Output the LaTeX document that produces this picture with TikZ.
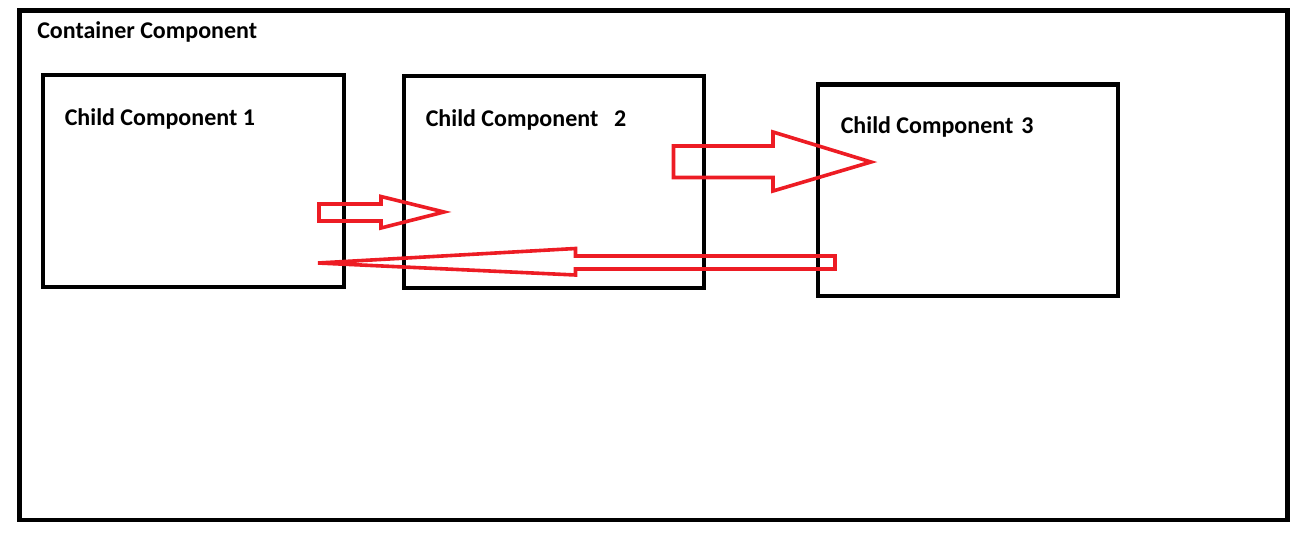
\documentclass[tikz,border=0pt]{standalone}
\usepackage{fontspec}
\setmainfont{Carlito}
\usetikzlibrary{positioning,calc}
\definecolor{arrowred}{RGB}{237,28,36}
\tikzset{
  compbox/.style={draw, line width=3.2pt, anchor=north west, inner sep=0pt, outer sep=0pt},
  complabel/.style={font=\bfseries\fontsize{18pt}{22pt}\selectfont, anchor=base west, inner sep=0pt},
  blockarrow/.style={draw=arrowred, line width=2.7pt, line join=miter}
}

\begin{document}
\begin{tikzpicture}[x=0.75pt, y=-0.75pt]
\useasboundingbox (0,0) rectangle (1306,542);

% --- container and its three children ---
\node[compbox, minimum width=951pt, minimum height=382pt] (container) at (19.5,10.5) {};
\node[compbox, minimum width=225.75pt, minimum height=159pt] (child1) at (43,75) {};
\node[compbox, minimum width=225pt, minimum height=159pt] (child2) at (404,76) {};
\node[compbox, minimum width=225pt, minimum height=158.6pt] (child3) at (818,84.5) {};

% --- labels ---
\node[complabel] (containerlabel) at ($(container.north west)+(17.5,28.5)$) {Container Component};
\node[complabel] (child1label) at ($(child1.north west)+(21.5,50)$) {Child Component 1};
\node[complabel] (child2label) at ($(child2.north west)+(21.5,50.5)$) {Child Component\hspace{0.66em}2};
\node[complabel] (child3label) at ($(child3.north west)+(22.5,48.5)$) {Child Component\hspace{0.33em}3};

% --- block arrows ---
\draw[blockarrow] (319,204) -- (381,204) -- (381,196.5) -- (444,212) -- (381,228) -- (381,221) -- (319,221) -- cycle;
\draw[blockarrow] (673.5,146) -- (773,146) -- (773,132) -- (871,162) -- (773,191) -- (773,177.5) -- (673.5,177.5) -- cycle;
\draw[blockarrow] (835,256) -- (575.5,256) -- (575.5,248.5) -- (318,263) -- (575.5,275) -- (575.5,269) -- (835,269) -- cycle;

\end{tikzpicture}
\end{document}
